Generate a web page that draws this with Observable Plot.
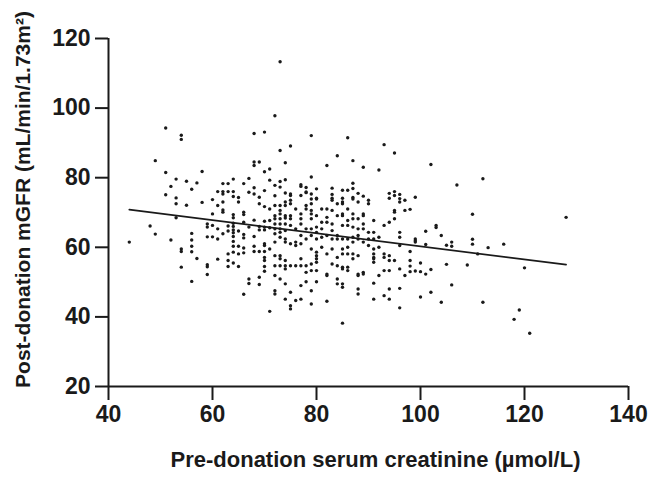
<!DOCTYPE html>
<html>
<head>
<meta charset="utf-8">
<script src="https://cdn.jsdelivr.net/npm/d3@7"></script>
<script src="https://cdn.jsdelivr.net/npm/@observablehq/plot@0.6"></script>
<style>
  html, body { margin: 0; padding: 0; background: #fff; }
  #chart svg { display: block; }
</style>
</head>
<body>
<div id="chart"></div>
<script>
// Pre-donation serum creatinine (µmol/L) vs post-donation mGFR (mL/min/1.73m²)
const points = [
  [51,94.3],[54,92.2],[54,91.0],[49,84.9],[68,92.7],[70,93.1],[68,84.5],[68,83.5],[69,84.5],[51,81.5],[58,81.8],[70,81.7],[71,82.5],
  [53,79.6],[52,77.5],[55,79.0],[57,78.5],[56,76.7],[51,75.1],[53,74.2],[62,78.3],[63,78.3],[64,79.6],[66,78.3],[67,79.8],[61,76.0],[62,76.0],[62,75.3],[63,76.0],[64,76.0],[64,74.6],[65,74.3],[67,75.8],[68,77.1],[68,75.3],[69,74.4],[70,76.3],[60,73.7],
  [73,113.3],[72,97.8],[79,92.1],[86,91.5],[75,89.1],[73,87.8],[93,89.5],[95,87.1],[84,86.3],[74,84.3],[87,84.9],[82,83.5],[89,83.0],[92,82.2],[79,80.2],[71,79.3],[72,77.8],[73,78.9],[73,77.3],[74,79.4],[77,78.0],[77,77.5],[78,77.2],[78,75.9],[78,75.7],[80,76.8],[83,77.0],[85,76.4],[86,76.4],[87,78.4],[87,76.9],[88,75.5],[89,74.7],[72,74.8],[74,75.6],[75,75.3],[75,74.9],[77,74.9],[79,75.3],[80,74.1],[83,75.2],[83,74.1],[85,74.1],[87,74.3],[94,75.5],[94,74.1],[95,76.0],[95,74.9],[96,75.2],[96,74.0],[99,74.4],
  [102,83.8],[112,79.7],[107,77.9],
  [53,72.5],[55,72.1],[58,72.9],[60,69.6],[61,72.0],[62,73.0],[62,70.7],[62,70.1],[64,69.4],[64,68.5],[64,66.9],[64,66.0],[64,65.0],[64,64.2],[65,73.0],[66,70.1],[66,69.4],[68,67.8],[69,72.5],[70,71.7],[71,71.0],[70,67.5],[70,65.8],[70,65.0],[71,65.6],[69,66.0],[69,65.0],[67,65.8],[66,67.2],[65,64.7],[63,66.1],[63,64.7],[62,63.9],[61,65.3],[61,62.4],[60,66.3],[59,66.7],[59,65.8],[59,63.0],[60,63.0],[53,68.5],[48,66.1],[49,63.8],[44,61.5],[52,62.1],[56,64.0],[56,62.1],[56,60.3],[56,58.7],[54,59.5],[54,58.8],[57,56.8],[54,54.3],[56,50.2],[59,55.0],[59,54.4],[59,52.2],[61,56.6],[63,58.1],[63,56.2],[63,54.5],[64,55.5],[65,54.5],[64,63.1],[64,61.7],[64,60.3],[64,58.6],[65,60.3],[65,58.1],[66,63.7],[66,62.7],[66,59.8],[66,58.4],[68,63.1],[68,60.3],[68,58.8],[69,58.8],[70,61.0],[70,60.5],[70,58.8],[70,57.1],[70,56.2],[70,54.5],[70,53.1],[71,59.5],[69,51.4],[69,49.3],[67,50.9],[67,49.6],[66,46.5],[71,41.6],[71,67.7],
  [72,72.0],[72,69.1],[72,68.2],[72,66.7],[72,65.3],[72,63.9],[72,61.5],[72,57.6],[72,54.7],[72,51.9],[72,47.5],[72,46.6],
  [73,72.0],[73,70.6],[73,69.6],[73,68.2],[73,66.7],[73,65.3],[73,64.3],[73,62.9],[73,57.6],[73,56.7],[73,54.7],[73,50.9],
  [74,73.0],[74,72.0],[74,69.1],[74,68.4],[74,66.7],[74,64.8],[74,62.4],[74,61.5],[74,56.2],[74,54.7],[74,53.8],[74,49.5],[74,45.1],
  [75,73.5],[75,72.5],[75,69.1],[75,68.2],[75,66.3],[75,61.0],[75,54.7],[75,47.1],[75,43.2],[75,42.3],
  [76,71.0],[76,65.3],[76,61.5],[76,60.5],[76,54.7],[76,44.7],
  [77,69.6],[77,68.2],[77,66.7],[77,63.4],[77,61.0],[77,56.7],[77,54.7],[77,49.0],[77,45.1],
  [78,72.0],[78,71.0],[78,65.3],[78,62.4],[78,54.7],[78,52.8],[78,50.1],
  [79,73.9],[79,72.5],[79,70.6],[79,69.6],[79,68.2],[79,65.3],[79,63.4],[79,59.5],[79,55.2],[79,53.3],[79,47.5],[79,43.7],
  [80,73.9],[80,69.1],[80,65.8],[80,64.3],[80,62.4],[80,58.6],[80,57.6],[80,56.7],[80,55.7],[80,53.3],[80,50.1],
  [81,71.0],[81,67.2],[81,65.3],[81,62.9],[81,60.0],
  [82,71.0],[82,68.6],[82,67.2],[82,63.4],[82,58.1],[82,52.3],[82,51.9],[82,44.5],
  [83,73.5],[83,70.6],[83,66.7],[83,64.8],[83,62.4],[83,59.5],[83,55.2],
  [84,72.5],[84,69.1],[84,63.4],[84,62.4],[84,57.1],[84,54.7],[84,50.9],[84,49.5],
  [85,73.0],[85,72.5],[85,69.6],[85,69.1],[85,66.3],[85,62.4],[85,59.5],[85,58.1],[85,54.3],[85,53.8],[85,49.5],[85,48.5],[85,38.2],
  [86,71.0],[86,67.7],[86,66.3],[86,62.4],[86,60.0],[86,58.1],[86,54.3],[86,53.3],
  [87,73.9],[87,69.6],[87,68.2],[87,65.8],[87,62.9],[87,61.5],[87,58.1],[87,56.7],
  [88,73.0],[88,68.2],[88,65.3],[88,63.4],[88,62.4],[88,57.6],[88,52.3],[88,51.9],[88,48.0],[88,46.6],
  [89,69.6],[89,69.1],[89,66.7],[89,65.3],[89,61.5],[89,52.8],[89,52.3],
  [90,73.5],[90,72.5],[90,64.3],[90,62.4],[90,60.5],
  [91,67.7],[91,64.3],[91,62.4],[91,59.5],[91,58.1],[91,57.1],[91,56.7],[91,55.7],[91,49.7],[91,45.1],
  [92,62.9],[92,60.0],[92,51.9],
  [93,66.3],[93,58.1],[93,57.1],[93,53.3],[93,46.1],
  [94,67.2],[94,57.6],[94,56.2],[94,53.3],[94,48.0],[94,45.1],
  [95,70.6],[95,70.1],[95,68.2],[95,56.2],
  [96,73.0],[96,64.3],[96,62.9],[96,60.5],[96,53.8],[96,48.2],[96,42.6],
  [97,73.5],[97,70.6],[97,51.9],
  [98,70.9],[110,69.5],[128,68.6],[103,66.3],[103,65.7],[101,64.6],[104,63.4],[99,62.4],[99,61.9],[99,61.5],[98,58.8],[98,56.2],[98,54.6],[98,53.0],[101,60.8],[105,60.6],[106,61.5],[106,60.3],[110,62.3],[110,60.9],[113,59.9],[116,60.9],[111,58.1],[100,55.5],[99,53.2],[100,53.0],[101,52.3],[102,53.6],[105,55.1],[109,54.9],[120,54.1],[106,49.2],[100,45.7],[102,47.1],[104,44.2],[112,44.2],[119,42.0],[118,39.3],[121,35.3]
];

// Fitted regression line end points
const fitX = [44, 128];
const fitY = [70.8, 55.0];

const xTicks = [40, 60, 80, 100, 120, 140];
const yTicks = [20, 40, 60, 80, 100, 120];
const xTitle = "Pre-donation serum creatinine (µmol/L)";
const yTitle = "Post-donation mGFR (mL/min/1.73m²)";

const fit = fitX.map((x, i) => ({x, y: fitY[i]}));
const ink = "#1a1a1a";

const chart = Plot.plot({
  width: 655,
  height: 477,
  marginLeft: 108,
  marginRight: 27,
  marginTop: 38,
  marginBottom: 91,
  style: {fontFamily: "'Liberation Sans', Arial, Helvetica, sans-serif", color: ink, background: "#fff"},
  x: {domain: [40, 140]},
  y: {domain: [20, 120]},
  marks: [
    Plot.axisX({ticks: xTicks, tickSize: 14, tickPadding: 5, strokeWidth: 2, fontSize: 23, fontWeight: "bold", label: null, tickFormat: d => String(d)}),
    Plot.axisY({ticks: yTicks, tickSize: 13, tickPadding: 5, strokeWidth: 2, fontSize: 23, fontWeight: "bold", label: null, tickFormat: d => String(d)}),
    Plot.ruleY([20], {stroke: ink, strokeWidth: 2}),
    Plot.ruleX([40], {stroke: ink, strokeWidth: 2}),
    Plot.dot(points, {x: d => d[0], y: d => d[1], r: 1.7, fill: ink, stroke: "none"}),
    Plot.line(fit, {x: "x", y: "y", stroke: ink, strokeWidth: 1.7}),
    Plot.text([xTitle], {frameAnchor: "bottom", textAnchor: "middle", lineAnchor: "middle", dx: 7, dy: 73, fontSize: 22, fontWeight: "bold", fill: ink}),
    Plot.text([yTitle], {frameAnchor: "left", textAnchor: "middle", lineAnchor: "middle", dx: -85, dy: -13, rotate: -90, fontSize: 21, fontWeight: "bold", fill: ink})
  ]
});
document.getElementById("chart").appendChild(chart);
</script>
</body>
</html>
